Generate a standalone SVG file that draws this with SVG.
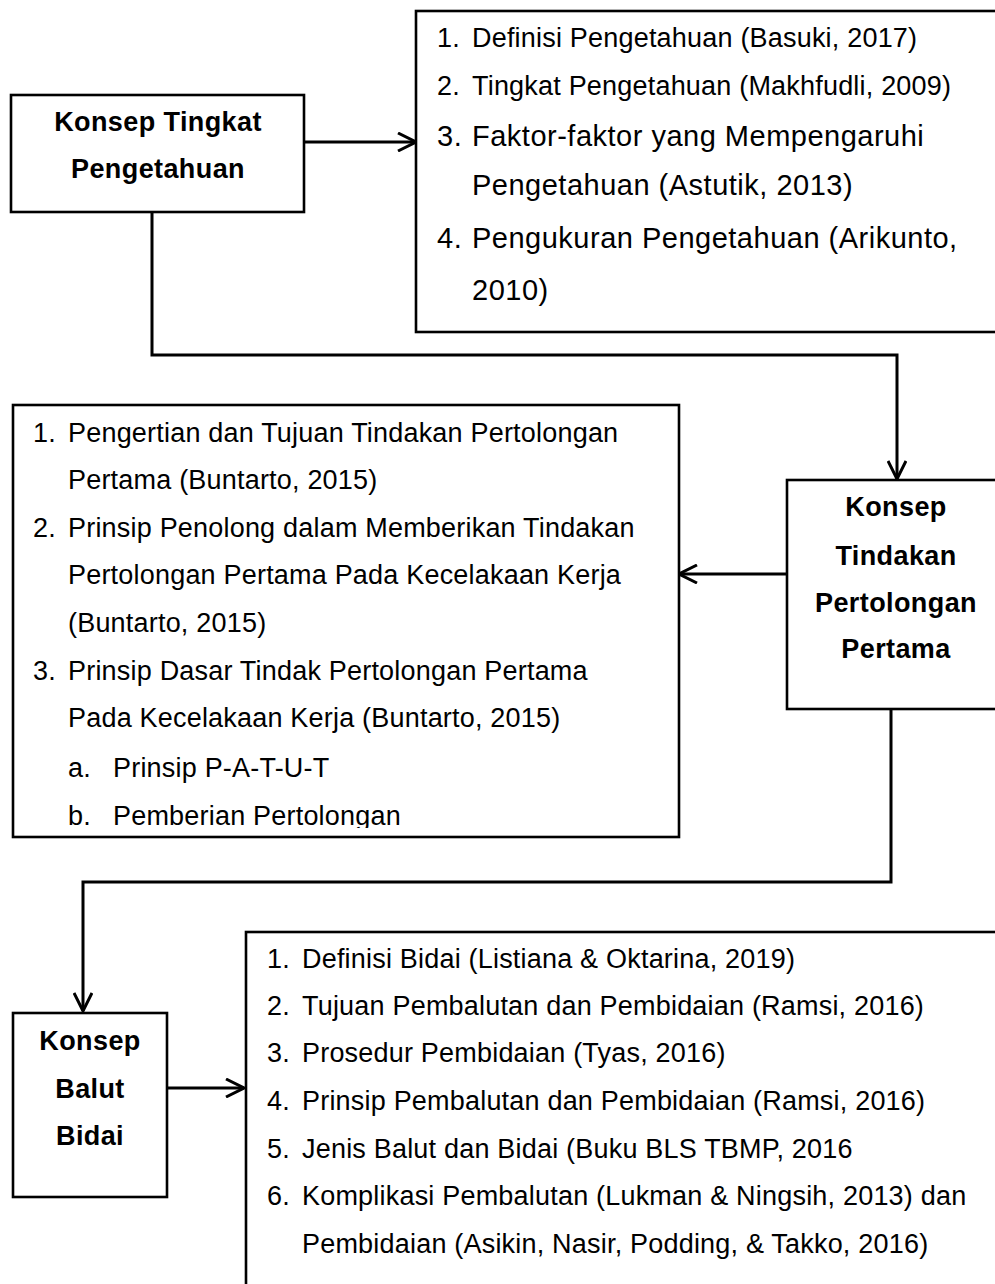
<svg xmlns="http://www.w3.org/2000/svg" width="995" height="1284" viewBox="0 0 995 1284">
<style>
.box{fill:#fff;stroke:#000;stroke-width:2.6}
.con{fill:none;stroke:#000;stroke-width:3}
.t{font-family:"Liberation Sans",Arial,sans-serif;font-size:27px;letter-spacing:0.2px;fill:#000}
.tl{font-size:29px;letter-spacing:0.5px}
.b{font-family:"Liberation Sans",Arial,sans-serif;font-size:27px;font-weight:bold;letter-spacing:0.4px;text-anchor:middle;fill:#000}
</style>
<defs>
<marker id="arr" viewBox="0 0 20 20" markerWidth="20" markerHeight="20" markerUnits="userSpaceOnUse" refX="19" refY="10" orient="auto">
<path d="M1,1 L19,10 L1,19" fill="none" stroke="#000" stroke-width="3"/>
</marker>
<clipPath id="clip3"><rect x="13" y="405" width="666" height="423"/></clipPath>
</defs>
<rect width="995" height="1284" fill="#fff"/>

<g id="connectors">
<path class="con" d="M304,142 H416" marker-end="url(#arr)"/>
<path class="con" d="M152,212 V355 H897 V479" marker-end="url(#arr)"/>
<path class="con" d="M787,574 H679" marker-end="url(#arr)"/>
<path class="con" d="M891,709 V882 H83 V1011" marker-end="url(#arr)"/>
<path class="con" d="M167,1088 H244" marker-end="url(#arr)"/>
</g>

<g id="node-konsep-tingkat">
<rect class="box" x="11" y="95" width="293" height="117"/>
<text class="b" x="158" y="131">Konsep Tingkat</text>
<text class="b" x="158" y="178">Pengetahuan</text>
</g>

<g id="node-list-pengetahuan">
<rect class="box" x="416" y="11" width="620" height="321"/>
<text class="t" x="437" y="47">1.</text><text class="t" x="472" y="47">Definisi Pengetahuan (Basuki, 2017)</text>
<text class="t" x="437" y="95">2.</text><text class="t" x="472" y="95">Tingkat Pengetahuan (Makhfudli, 2009)</text>
<text class="t tl" x="437" y="146">3.</text><text class="t tl" x="472" y="146">Faktor-faktor yang Mempengaruhi</text>
<text class="t tl" x="472" y="195">Pengetahuan (Astutik, 2013)</text>
<text class="t tl" x="437" y="248">4.</text><text class="t tl" x="472" y="248">Pengukuran Pengetahuan (Arikunto,</text>
<text class="t tl" x="472" y="300">2010)</text>
</g>

<g id="node-list-pertolongan">
<rect class="box" x="13" y="405" width="666" height="432"/>
<g clip-path="url(#clip3)">
<text class="t" x="33" y="442">1.</text><text class="t" x="68" y="442">Pengertian dan Tujuan Tindakan Pertolongan</text>
<text class="t" x="68" y="489">Pertama (Buntarto, 2015)</text>
<text class="t" x="33" y="537">2.</text><text class="t" x="68" y="537">Prinsip Penolong dalam Memberikan Tindakan</text>
<text class="t" x="68" y="584">Pertolongan Pertama Pada Kecelakaan Kerja</text>
<text class="t" x="68" y="632">(Buntarto, 2015)</text>
<text class="t" x="33" y="680">3.</text><text class="t" x="68" y="680">Prinsip Dasar Tindak Pertolongan Pertama</text>
<text class="t" x="68" y="727">Pada Kecelakaan Kerja (Buntarto, 2015)</text>
<text class="t" x="68" y="777">a.</text><text class="t" x="113" y="777">Prinsip P-A-T-U-T</text>
<text class="t" x="68" y="825">b.</text><text class="t" x="113" y="825">Pemberian Pertolongan</text>
</g>
</g>

<g id="node-konsep-tindakan">
<rect class="box" x="787" y="480" width="260" height="229"/>
<text class="b" x="896" y="516">Konsep</text>
<text class="b" x="896" y="565">Tindakan</text>
<text class="b" x="896" y="612">Pertolongan</text>
<text class="b" x="896" y="658">Pertama</text>
</g>

<g id="node-konsep-balut">
<rect class="box" x="13" y="1013" width="154" height="184"/>
<text class="b" x="90" y="1050">Konsep</text>
<text class="b" x="90" y="1098">Balut</text>
<text class="b" x="90" y="1145">Bidai</text>
</g>

<g id="node-list-balut">
<rect class="box" x="246" y="932" width="800" height="400"/>
<text class="t" x="267" y="968">1.</text><text class="t" x="302" y="968">Definisi Bidai (Listiana &amp; Oktarina, 2019)</text>
<text class="t" x="267" y="1015">2.</text><text class="t" x="302" y="1015">Tujuan Pembalutan dan Pembidaian (Ramsi, 2016)</text>
<text class="t" x="267" y="1062">3.</text><text class="t" x="302" y="1062">Prosedur Pembidaian (Tyas, 2016)</text>
<text class="t" x="267" y="1110">4.</text><text class="t" x="302" y="1110">Prinsip Pembalutan dan Pembidaian (Ramsi, 2016)</text>
<text class="t" x="267" y="1158">5.</text><text class="t" x="302" y="1158">Jenis Balut dan Bidai (Buku BLS TBMP, 2016</text>
<text class="t" x="267" y="1205">6.</text><text class="t" x="302" y="1205">Komplikasi Pembalutan (Lukman &amp; Ningsih, 2013) dan</text>
<text class="t" x="302" y="1253">Pembidaian (Asikin, Nasir, Podding, &amp; Takko, 2016)</text>
</g>
</svg>
